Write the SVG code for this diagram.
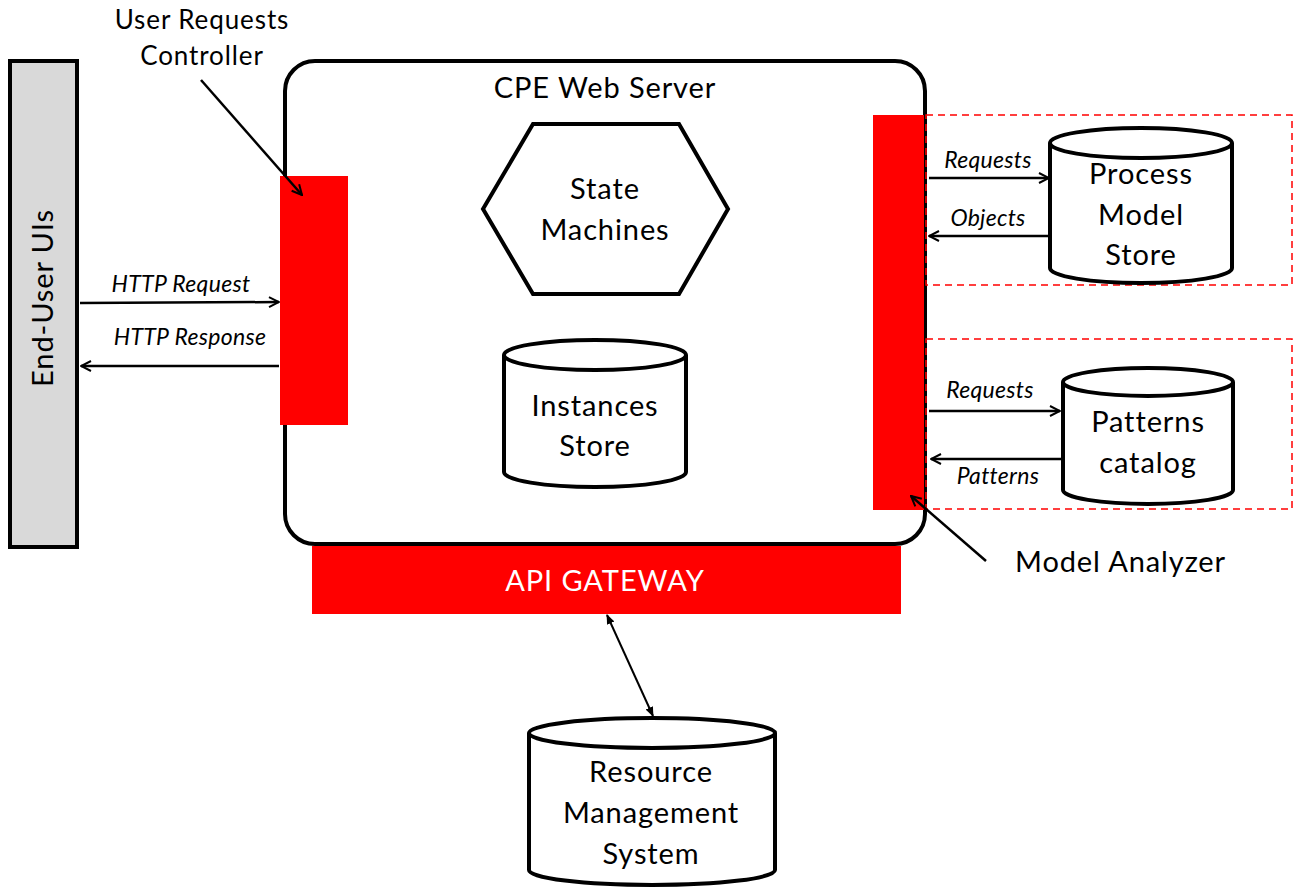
<svg xmlns="http://www.w3.org/2000/svg" width="1294" height="887" viewBox="0 0 1294 887">
<style>
text{font-family:Lato,"Liberation Sans",sans-serif;fill:#000}
.big{font-size:29px;letter-spacing:0.9px;text-anchor:middle}
.lbl{font-size:23px;font-style:italic;text-anchor:middle;letter-spacing:0.3px}
.shape{fill:#fff;stroke:#000;stroke-width:4}
.red{fill:#ff0000}
.conn{stroke:#000;stroke-width:2.5;fill:none}
.dash{fill:none;stroke:#ff0000;stroke-width:1.5;stroke-dasharray:7 5}
</style>
<defs>
<marker id="arr" viewBox="0 0 12 12" refX="11" refY="6" markerWidth="12" markerHeight="12" markerUnits="userSpaceOnUse" orient="auto-start-reverse">
<path d="M1,1 L11,6 L1,11" fill="none" stroke="#000" stroke-width="2"/>
</marker>
<marker id="arr2" viewBox="0 0 10 10" refX="9" refY="5" markerWidth="10" markerHeight="10" markerUnits="userSpaceOnUse" orient="auto-start-reverse">
<path d="M0,1 L10,5 L0,9 Z" fill="#000"/>
</marker>
</defs>

<g id="end-user-uis">
<rect x="10" y="61" width="67" height="486" fill="#d9d9d9" stroke="#000" stroke-width="4"/>
<text class="big" transform="translate(53,298) rotate(-90)">End-User UIs</text>
</g>

<g id="cpe-web-server">
<rect x="285" y="61" width="640" height="483" rx="30" class="shape"/>
<text class="big" x="605" y="98">CPE Web Server</text>
</g>

<g id="process-model-box"><rect x="926" y="115" width="366" height="170" class="dash"/></g>
<g id="patterns-box"><rect x="926" y="339" width="366" height="170" class="dash"/></g>

<g id="user-requests-controller">
<rect x="280" y="176" width="68" height="249" class="red"/>
<text class="big" x="202" y="29" style="font-size:26px;letter-spacing:0.9px">User Requests</text>
<text class="big" x="202" y="65" style="font-size:26px;letter-spacing:0.9px">Controller</text>
</g>

<g id="model-analyzer">
<rect x="873" y="115" width="51" height="395" class="red"/>
<text x="1015" y="572" style="font-size:29px;letter-spacing:0.9px">Model Analyzer</text>
</g>

<g id="state-machines">
<polygon points="483,209 533,124 679,124 728,209 679,294 533,294" class="shape"/>
<text class="big" x="605" y="199">State</text>
<text class="big" x="605" y="240">Machines</text>
</g>

<g id="instances-store">
<path d="M504,355 A91,15 0 0 1 686,355 L686,472 A91,15 0 0 1 504,472 Z" class="shape"/>
<path d="M504,355 A91,15 0 0 0 686,355" class="shape" fill="none"/>
<text class="big" x="595" y="416">Instances</text>
<text class="big" x="595" y="456">Store</text>
</g>

<g id="process-model-store">
<path d="M1050,143 A91,15 0 0 1 1232,143 L1232,268 A91,15 0 0 1 1050,268 Z" class="shape"/>
<path d="M1050,143 A91,15 0 0 0 1232,143" class="shape" fill="none"/>
<text class="big" x="1141" y="184">Process</text>
<text class="big" x="1141" y="225">Model</text>
<text class="big" x="1141" y="265">Store</text>
</g>

<g id="patterns-catalog">
<path d="M1063,382 A85,14 0 0 1 1233,382 L1233,490 A85,14 0 0 1 1063,490 Z" class="shape"/>
<path d="M1063,382 A85,14 0 0 0 1233,382" class="shape" fill="none"/>
<text class="big" x="1148" y="432">Patterns</text>
<text class="big" x="1148" y="473">catalog</text>
</g>

<g id="api-gateway">
<rect x="312" y="546" width="589" height="68" class="red"/>
<text class="big" x="605" y="591" style="fill:#fff">API GATEWAY</text>
</g>

<g id="resource-management-system">
<path d="M529,733 A123,15 0 0 1 775,733 L775,870 A123,15 0 0 1 529,870 Z" class="shape"/>
<path d="M529,733 A123,15 0 0 0 775,733" class="shape" fill="none"/>
<text class="big" x="651" y="782">Resource</text>
<text class="big" x="651" y="823">Management</text>
<text class="big" x="651" y="864">System</text>
</g>

<g id="connectors">
<line x1="80" y1="303" x2="279" y2="302" class="conn" marker-end="url(#arr)"/>
<line x1="279" y1="366" x2="81" y2="366" class="conn" marker-end="url(#arr)"/>
<line x1="929" y1="178" x2="1049" y2="178" class="conn" marker-end="url(#arr)"/>
<line x1="1049" y1="236" x2="929" y2="236" class="conn" marker-end="url(#arr)"/>
<line x1="929" y1="411" x2="1060" y2="411" class="conn" marker-end="url(#arr)"/>
<line x1="1062" y1="459" x2="931" y2="459" class="conn" marker-end="url(#arr)"/>
<line x1="201" y1="80" x2="302" y2="195" class="conn" marker-end="url(#arr)"/>
<line x1="986" y1="561" x2="911" y2="496" class="conn" marker-end="url(#arr)"/>
<line x1="607" y1="615" x2="653" y2="716" stroke="#000" stroke-width="2" marker-start="url(#arr2)" marker-end="url(#arr2)"/>
<text class="lbl" x="181" y="292">HTTP Request</text>
<text class="lbl" x="190" y="345">HTTP Response</text>
<text class="lbl" x="988" y="168">Requests</text>
<text class="lbl" x="988" y="226">Objects</text>
<text class="lbl" x="990" y="398">Requests</text>
<text class="lbl" x="998" y="484">Patterns</text>
</g>
</svg>
